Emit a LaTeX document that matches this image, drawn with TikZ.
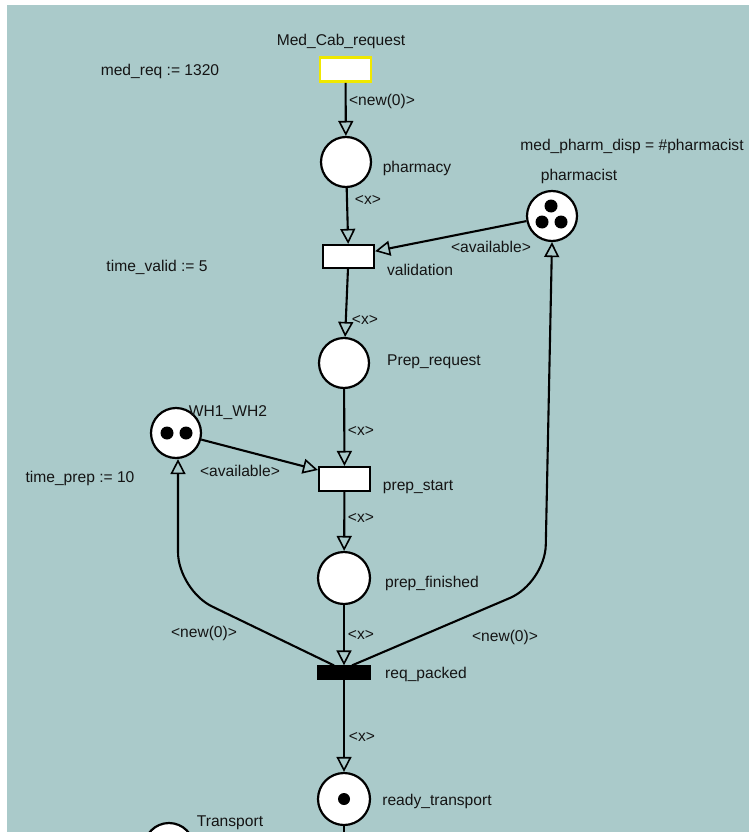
\documentclass[tikz,border=0pt]{standalone}
\usepackage{fontspec}
\setmainfont{Liberation Sans}
\usetikzlibrary{arrows.meta}
\definecolor{netbg}{RGB}{170,202,202}
\definecolor{hilite}{RGB}{240,232,0}
\definecolor{ink}{RGB}{20,20,20}
\tikzset{
  place/.style={circle,draw=black,fill=white,line width=2.2pt,minimum size=50pt,inner sep=0pt},
  trans/.style={rectangle,draw=black,fill=white,line width=2.2pt,minimum width=51pt,minimum height=24pt,inner sep=0pt},
  token/.style={circle,fill=black,minimum size=13pt,inner sep=0pt},
  lbl/.style={text=ink,font=\fontsize{15.6}{17}\selectfont,inner sep=0pt},
  arc/.style={line width=2.1pt,-{Triangle[open,length=15pt,width=15pt,line width=1.6pt]},rounded corners=38pt},
}
\begin{document}
\begin{tikzpicture}[x=1pt,y=-1pt]
\useasboundingbox (0,0) rectangle (749,832);
\clip (0,0) rectangle (749,832);
\fill[white] (0,0) rectangle (749,832);
\fill[netbg] (7,5) rectangle (749,832);

% places
\node[place] (pharmacy) at (346,162) {};
\node[place] (pharmacist) at (552,216) {};
\node[place] (preq) at (344,363) {};
\node[place] (wh) at (176,433) {};
\node[place,minimum width=52pt,minimum height=51pt] (pfin) at (344,578) {};
\node[place,minimum width=51pt,minimum height=52pt] (ready) at (344,799) {};
\node[place] (transport) at (169,848) {};

% tokens
\node[token] at (551,206) {};
\node[token] at (542,222) {};
\node[token] at (561,222) {};
\node[token] at (167,433) {};
\node[token] at (186,433) {};
\node[token,minimum size=12pt] at (344,799) {};

% transitions
\node[trans,draw=hilite,line width=2.6pt] (mcr) at (345.5,69.5) {};
\node[trans,minimum height=23pt] (valid) at (348.5,256.5) {};
\node[trans] (pstart) at (344.5,479) {};
\node[trans,fill=black,minimum height=12pt] (packed) at (344,672.5) {};

% arcs
\draw[arc] (mcr) -- (pharmacy);
\draw[arc] (pharmacy) -- (valid);
\draw[arc] (pharmacist) -- (valid);
\draw[arc] (valid) -- (preq);
\draw[arc] (preq) -- (pstart);
\draw[arc] (wh) -- (pstart.west |- 0,470);
\draw[arc] (pstart) -- (pfin);
\draw[arc] (pfin) -- (packed);
\draw[arc] (packed) -- (ready);
\coordinate (lbend) at (178,590);
\coordinate (rbend) at (545,583);
\draw[arc] ([xshift=-10pt]packed.north) -- (lbend) -- (wh.south -| lbend);
\draw[arc] ([xshift=8pt]packed.north) -- (rbend) -- (pharmacist.south);
\draw[line width=2.1pt] (ready) -- (344,840);

% names and inscriptions
\node[lbl] at (341,41) {Med\_Cab\_request};
\node[lbl] at (160,71) {med\_req := 1320};
\node[lbl] at (382,101) {<new(0)>};
\node[lbl] at (417,168) {pharmacy};
\node[lbl] at (368,200) {<x>};
\node[lbl] at (632,146) {med\_pharm\_disp = \#pharmacist};
\node[lbl] at (579,176) {pharmacist};
\node[lbl] at (491,247) {<available>};
\node[lbl] at (420,270) {validation};
\node[lbl] at (157,267) {time\_valid := 5};
\node[lbl] at (365,320) {<x>};
\node[lbl] at (434,362) {Prep\_request};
\node[lbl] at (361,431) {<x>};
\node[lbl] at (228,413) {WH1\_WH2};
\node[lbl] at (240,471) {<available>};
\node[lbl] at (80,478) {time\_prep := 10};
\node[lbl] at (418,487) {prep\_start};
\node[lbl] at (361,518) {<x>};
\node[lbl] at (432,583) {prep\_finished};
\node[lbl] at (204,633) {<new(0)>};
\node[lbl] at (361,635) {<x>};
\node[lbl] at (505,637) {<new(0)>};
\node[lbl] at (426,674) {req\_packed};
\node[lbl] at (362,737) {<x>};
\node[lbl] at (437,801) {ready\_transport};
\node[lbl] at (230,823) {Transport};
\end{tikzpicture}
\end{document}
